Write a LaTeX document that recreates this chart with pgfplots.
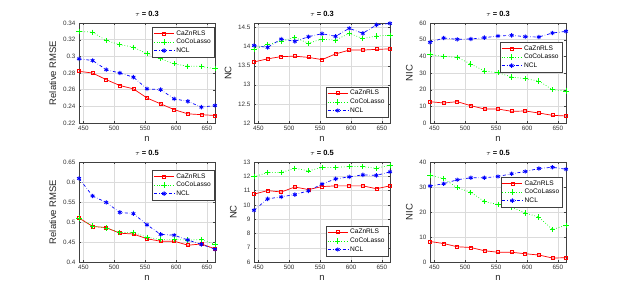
\documentclass[border=0pt]{standalone}
\usepackage{pgfplots}
\usepackage{pgfplotstable}
\pgfplotsset{compat=1.18}
\usepackage{fontspec}
\setmainfont{Liberation Sans}

\pgfplotstableread{
x a b c
443 0.282 0.330 0.297
465 0.280 0.329 0.295
487 0.272 0.319 0.284
509 0.265 0.314 0.280
531 0.261 0.311 0.275
553 0.250 0.303 0.261
575 0.243 0.297 0.260
597 0.236 0.291 0.249
619 0.231 0.288 0.246
641 0.230 0.288 0.239
663 0.229 0.285 0.241
}\tlA
\pgfplotstableread{
x a b c
443 13.60 13.94 14.03
465 13.68 14.05 13.98
487 13.74 14.15 14.20
509 13.75 14.24 14.14
531 13.72 14.09 14.26
553 13.66 14.20 14.34
575 13.81 14.17 14.27
597 13.91 14.35 14.48
619 13.91 14.21 14.35
641 13.93 14.28 14.57
663 13.94 14.30 14.61
}\tmA
\pgfplotstableread{
x a b c
443 12.8 41.0 48.4
465 12.0 40.0 51.0
487 12.8 39.4 50.2
509 10.4 35.4 50.4
531 8.4 31.2 51.2
553 8.4 30.2 52.2
575 7.0 27.6 52.6
597 7.2 26.6 51.8
619 6.0 25.2 51.6
641 4.6 20.0 54.0
663 4.2 19.2 55.0
}\trA
\pgfplotstableread{
x a b c
443 0.510 0.510 0.609
465 0.489 0.490 0.565
487 0.486 0.485 0.549
509 0.472 0.474 0.524
531 0.470 0.474 0.521
553 0.458 0.462 0.493
575 0.452 0.456 0.469
597 0.452 0.456 0.467
619 0.442 0.455 0.455
641 0.445 0.456 0.444
663 0.433 0.444 0.432
}\blA
\pgfplotstableread{
x a b c
443 10.75 11.97 9.62
465 11.00 12.26 10.42
487 10.90 12.26 10.56
509 11.25 12.56 10.72
531 11.07 12.38 10.98
553 11.28 12.62 11.46
575 11.33 12.62 11.82
597 11.33 12.68 11.96
619 11.33 12.68 12.10
641 11.13 12.56 12.06
663 11.33 12.78 12.31
}\bmA
\pgfplotstableread{
x a b c
443 8.2 34.7 30.4
465 7.4 33.4 31.3
487 6.1 29.7 32.9
509 5.8 27.9 33.7
531 4.5 24.2 33.7
553 3.9 23.0 34.2
575 3.9 22.0 35.3
597 3.3 19.6 36.2
619 2.8 18.0 37.4
641 1.6 13.0 37.9
663 1.7 14.7 37.1
}\brA

\pgfplotsset{
  panel/.style={
    width=136pt, height=100pt, scale only axis,
    anchor=south west,
    xmin=443, xmax=663, xtick={450,500,...,650},
    grid=major, grid style={black!14, line width=0.4pt},
    tick align=inside, major tick length=2pt,
    axis line style={black!75, line width=0.4pt},
    tick style={black!75},
    tick label style={font=\fontsize{6.3}{7}\selectfont, text=black!80},
    /pgf/number format/assume math mode=true,
    yticklabel style={/pgf/number format/fixed},
    scaled y ticks=false,
    label style={font=\fontsize{9.5}{11}\selectfont, text=black!85},
    xlabel={n},
    xlabel style={yshift=1pt},
    title style={font=\bfseries\fontsize{7.5}{8}\selectfont, yshift=-3pt},
    legend style={font=\fontsize{6.6}{7.5}\selectfont, draw=black!75, line width=0.4pt,
      inner sep=1.2pt, row sep=-1.5pt, fill=white},
    legend cell align=left,
    legend image code/.code={\draw[mark repeat=2,mark phase=2,##1] plot coordinates {(0pt,0pt) (10pt,0pt) (20pt,0pt)};},
    clip=false,
  },
  sA/.style={color=red, solid, line width=0.7pt, mark=square, mark size=1.5pt, mark options={solid}},
  sB/.style={color=green, dotted, line width=0.7pt, mark=+, mark size=2.6pt, mark options={solid}},
  sC/.style={color=blue, dash dot, line width=0.7pt, mark=asterisk, mark size=2.2pt, mark options={solid, line width=0.9pt}},
}

\begin{document}
\begin{tikzpicture}[x=1pt,y=1pt]
\useasboundingbox (0,0) rectangle (623,295);

% top-left
\begin{axis}[panel, at={(79pt,172pt)}, ymin=0.22, ymax=0.34, ytick={0.22,0.24,...,0.341},
  ylabel={Relative RMSE}, title={$\tau$ = 0.3},
  legend style={at={(rel axis cs:0.995,0.96)}, anchor=north east}]
\addplot[sA] table[x=x,y=a]{\tlA};
\addplot[sB] table[x=x,y=b]{\tlA};
\addplot[sC] table[x=x,y=c]{\tlA};
\legend{CaZnRLS,CoCoLasso,NCL}
\end{axis}

% top-middle
\begin{axis}[panel, at={(254pt,172pt)}, ymin=12, ymax=14.62, ytick={12,12.5,...,14.6},
  ylabel={NC}, title={$\tau$ = 0.3},
  legend style={at={(rel axis cs:0.985,0.06)}, anchor=south east}]
\addplot[sA] table[x=x,y=a]{\tmA};
\addplot[sB] table[x=x,y=b]{\tmA};
\addplot[sC] table[x=x,y=c]{\tmA};
\legend{CaZnRLS,CoCoLasso,NCL}
\end{axis}

% top-right
\begin{axis}[panel, at={(430pt,172pt)}, ymin=0, ymax=60, ytick={0,10,...,60},
  ylabel={NIC}, title={$\tau$ = 0.3},
  legend style={at={(rel axis cs:0.97,0.81)}, anchor=north east}]
\addplot[sA] table[x=x,y=a]{\trA};
\addplot[sB] table[x=x,y=b]{\trA};
\addplot[sC] table[x=x,y=c]{\trA};
\legend{CaZnRLS,CoCoLasso,NCL}
\end{axis}

% bottom-left
\begin{axis}[panel, at={(79pt,33pt)}, ymin=0.4, ymax=0.65, ytick={0.4,0.45,...,0.651},
  ylabel={Relative RMSE}, title={$\tau$ = 0.5},
  legend style={at={(rel axis cs:0.995,0.92)}, anchor=north east}]
\addplot[sA] table[x=x,y=a]{\blA};
\addplot[sB] table[x=x,y=b]{\blA};
\addplot[sC] table[x=x,y=c]{\blA};
\legend{CaZnRLS,CoCoLasso,NCL}
\end{axis}

% bottom-middle
\begin{axis}[panel, at={(254pt,33pt)}, ymin=6, ymax=13, ytick={6,7,...,13},
  ylabel={NC}, title={$\tau$ = 0.5},
  legend style={at={(rel axis cs:0.985,0.06)}, anchor=south east}]
\addplot[sA] table[x=x,y=a]{\bmA};
\addplot[sB] table[x=x,y=b]{\bmA};
\addplot[sC] table[x=x,y=c]{\bmA};
\legend{CaZnRLS,CoCoLasso,NCL}
\end{axis}

% bottom-right
\begin{axis}[panel, at={(430pt,33pt)}, ymin=0, ymax=40, ytick={0,10,...,40},
  ylabel={NIC}, title={$\tau$ = 0.5},
  legend style={at={(rel axis cs:0.975,0.85)}, anchor=north east}]
\addplot[sA] table[x=x,y=a]{\brA};
\addplot[sB] table[x=x,y=b]{\brA};
\addplot[sC] table[x=x,y=c]{\brA};
\legend{CaZnRLS,CoCoLasso,NCL}
\end{axis}
\end{tikzpicture}
\end{document}
